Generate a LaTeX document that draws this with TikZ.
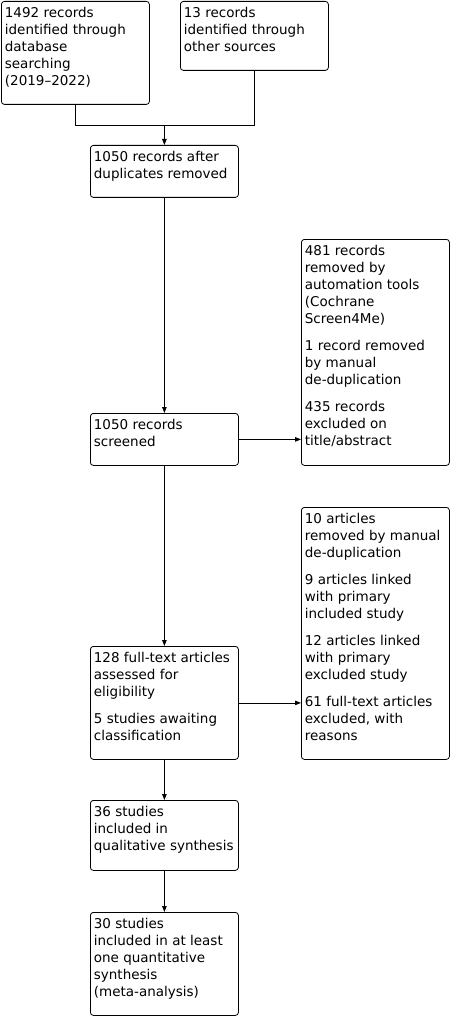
\documentclass[tikz,border=0pt]{standalone}
\usepackage{fontspec}
\setmainfont{DejaVu Sans}
\usetikzlibrary{arrows.meta, positioning}
\newcommand{\boxtext}[2]{\parbox[t][#1][t]{143pt}{\raggedright #2}}

\begin{document}
\begin{tikzpicture}[x=1pt, y=1pt, line width=0.8pt,
  box/.style={draw, rounded corners=3pt, anchor=north west, inner xsep=2.5pt, inner ysep=6pt, font=\fontsize{13.5}{17}\selectfont},
  arr/.style={-{Triangle[length=6pt, width=4.5pt]}}]
  \useasboundingbox (0,0) rectangle (452,-1016);
  \node[box] (Db) at (1,-1) {\boxtext{91pt}{\hspace*{1pt}1492 records\\ \hspace*{1pt}identified through\\ \hspace*{1pt}database\\ \hspace*{1pt}searching\\ \hspace*{1pt}(2019--2022)}};
  \node[box] (Other) at (180,-1) {\boxtext{57pt}{\hspace*{1pt}13 records\\ \hspace*{1pt}identified through\\ \hspace*{1pt}other sources}};
  \node[box] (Dup) at (90,-145) {\boxtext{40pt}{\hspace*{1pt}1050 records after\\ \hspace*{1pt}duplicates removed}};
  \node[box] (Scr) at (90,-413) {\boxtext{40pt}{\hspace*{1pt}1050 records\\ \hspace*{1pt}screened}};
  \node[box] (Excl) at (301,-239) {\boxtext{214pt}{\hspace*{1pt}481 records\\ \hspace*{1pt}removed by\\ \hspace*{1pt}automation tools\\ \hspace*{1pt}(Cochrane\\ \hspace*{1pt}Screen4Me)\\[10pt] \hspace*{1pt}1 record removed\\ \hspace*{1pt}by manual\\ \hspace*{1pt}de-duplication\\[10pt] \hspace*{1pt}435 records\\ \hspace*{1pt}excluded on\\ \hspace*{1pt}title/abstract}};
  \node[box] (Full) at (90,-646) {\boxtext{101pt}{\hspace*{1pt}128 full-text articles\\ \hspace*{1pt}assessed for\\ \hspace*{1pt}eligibility\\[10pt] \hspace*{1pt}5 studies awaiting\\ \hspace*{1pt}classification}};
  \node[box] (Rem) at (301,-507) {\boxtext{240pt}{\hspace*{1pt}10 articles\\ \hspace*{1pt}removed by manual\\ \hspace*{1pt}de-duplication\\[10pt] \hspace*{1pt}9 articles linked\\ \hspace*{1pt}with primary\\ \hspace*{1pt}included study\\[10pt] \hspace*{1pt}12 articles linked\\ \hspace*{1pt}with primary\\ \hspace*{1pt}excluded study\\[10pt] \hspace*{1pt}61 full-text articles\\ \hspace*{1pt}excluded, with\\ \hspace*{1pt}reasons}};
  \node[box] (Qual) at (90,-800) {\boxtext{58pt}{\hspace*{1pt}36 studies\\ \hspace*{1pt}included in\\ \hspace*{1pt}qualitative synthesis}};
  \node[box] (Quant) at (90,-912) {\boxtext{91pt}{\hspace*{1pt}30 studies\\ \hspace*{1pt}included in at least\\ \hspace*{1pt}one quantitative\\ \hspace*{1pt}synthesis\\ \hspace*{1pt}(meta-analysis)}};
  % merge of the two sources
  \coordinate (merge) at (Dup.north |- 0,-125);
  \draw (Db.south) |- (merge);
  \draw (Other.south) |- (merge);
  \draw[arr] (merge) -- (Dup.north);
  \draw[arr] (Dup.south) -- (Scr.north);
  \draw[arr] (Scr.east) -- (Scr.east -| Excl.west);
  \draw[arr] (Scr.south) -- (Full.north);
  \draw[arr] (Full.east) -- (Full.east -| Rem.west);
  \draw[arr] (Full.south) -- (Qual.north);
  \draw[arr] (Qual.south) -- (Quant.north);
\end{tikzpicture}
\end{document}
